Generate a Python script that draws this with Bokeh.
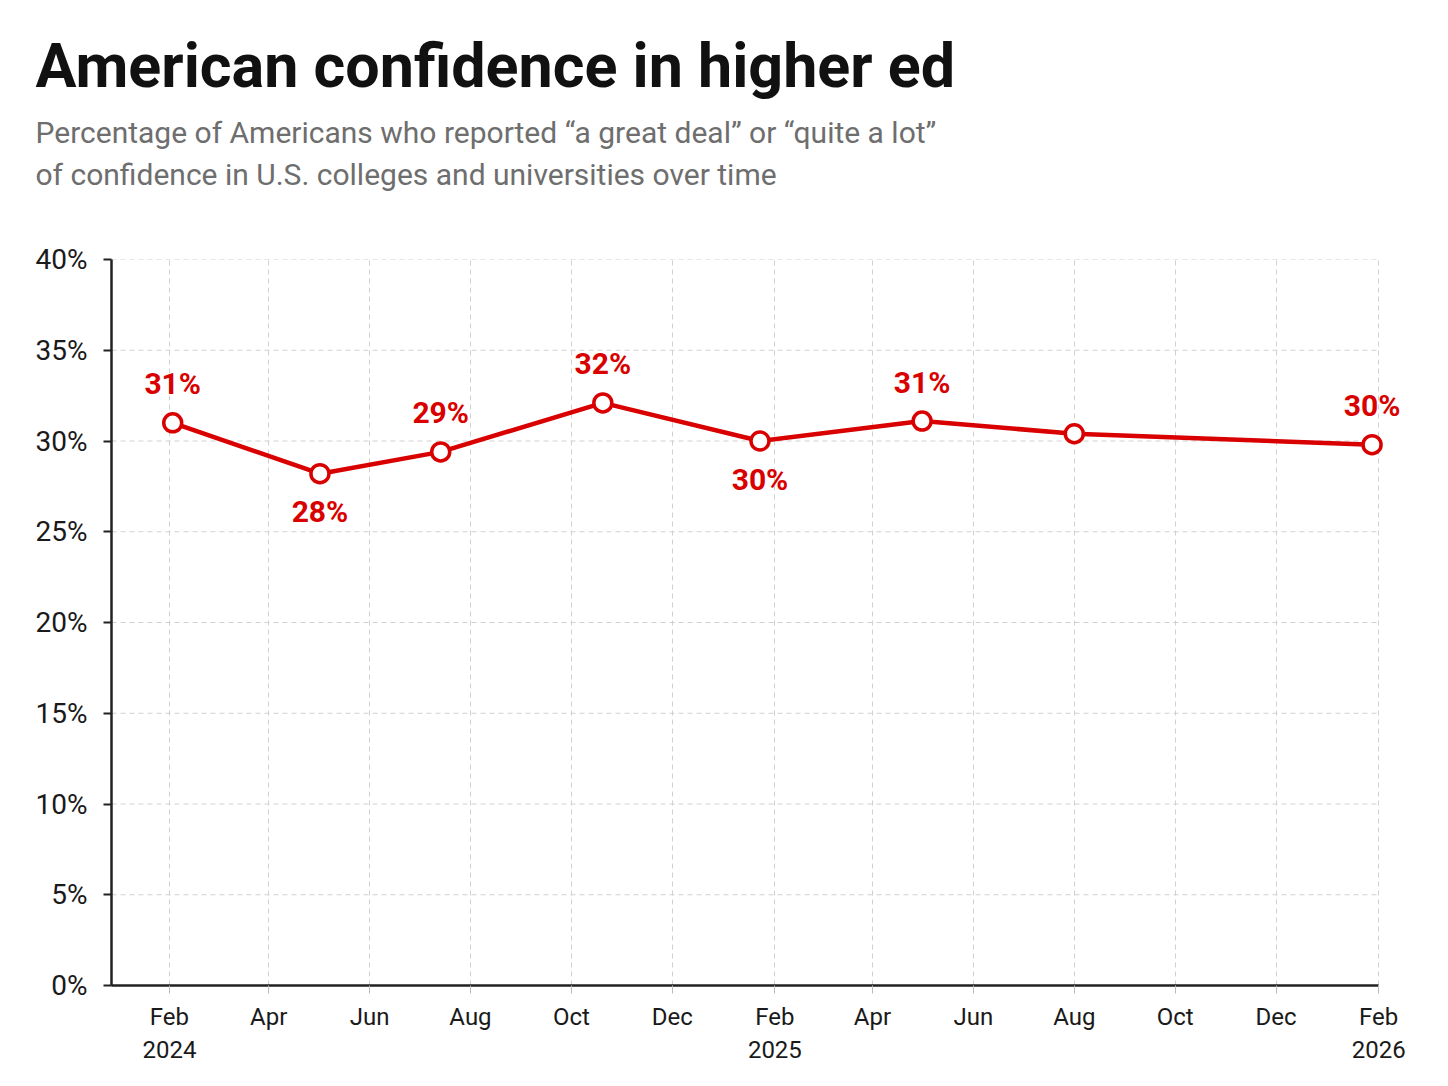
from datetime import datetime
from bokeh.plotting import figure
from bokeh.models import (ColumnDataSource, Range1d, FixedTicker, Title,
                          PrintfTickFormatter)
from bokeh.core.properties import value
from bokeh.embed import file_html
from bokeh.resources import INLINE

# ---- data ----
survey_dates = ["2024-02-03", "2024-05-02", "2024-07-14", "2024-10-20",
                "2025-01-23", "2025-05-01", "2025-08-01", "2026-01-28"]
confidence = [31.0, 28.2, 29.4, 32.1, 30.0, 31.1, 30.4, 29.8]
point_labels = ["31%", "28%", "29%", "32%", "30%", "31%", "", "30%"]
label_side = ["above", "below", "above", "above", "below", "above", "above", "above"]

tick_dates = ["2024-02-01", "2024-04-01", "2024-06-01", "2024-08-01", "2024-10-01",
              "2024-12-01", "2025-02-01", "2025-04-01", "2025-06-01", "2025-08-01",
              "2025-10-01", "2025-12-01", "2026-02-01"]
tick_labels = ["Feb\n2024", "Apr", "Jun", "Aug", "Oct", "Dec", "Feb\n2025",
               "Apr", "Jun", "Aug", "Oct", "Dec", "Feb\n2026"]
y_ticks = [0, 5, 10, 15, 20, 25, 30, 35, 40]

title_text = "American confidence in higher ed"
subtitle_lines = ["Percentage of Americans who reported \u201ca great deal\u201d or \u201cquite a lot\u201d",
                  "of confidence in U.S. colleges and universities over time"]

RED = "#d90000"
FONT = "Roboto"


def ms(s):
    d = datetime.strptime(s, "%Y-%m-%d")
    return int((d - datetime(1970, 1, 1)).total_seconds() * 1000)


def dt(s):
    return datetime.strptime(s, "%Y-%m-%d")


xs = [dt(s) for s in survey_dates]
dy = [-39 if side == "above" else 38 for side in label_side]
src = ColumnDataSource(dict(x=xs, y=confidence, label=point_labels, dy=dy))

x_start = datetime(2023, 12, 28)
x_axis_end = dt(tick_dates[-1])

p = figure(width=1440, height=1078, x_axis_type="datetime",
           output_backend="svg", toolbar_location=None,
           min_border_left=111, min_border_right=37,
           min_border_top=259, min_border_bottom=93)
p.title.text = ""
p.x_range = Range1d(x_start, datetime(2026, 2, 16))
p.y_range = Range1d(0, 40)
p.background_fill_color = "white"
p.border_fill_color = "white"
p.outline_line_color = None

tick_ms = [ms(s) for s in tick_dates]
p.xaxis.ticker = FixedTicker(ticks=tick_ms)
p.xaxis.major_label_overrides = {t: l for t, l in zip(tick_ms, tick_labels)}
p.xaxis.bounds = (x_start, x_axis_end)
p.xaxis.minor_tick_line_color = None
p.yaxis.ticker = FixedTicker(ticks=y_ticks)
p.yaxis.formatter = PrintfTickFormatter(format="%d%%")
p.yaxis.minor_tick_line_color = None

for ax in (p.xaxis, p.yaxis):
    ax.axis_line_color = "#222222"
    ax.axis_line_width = 2.5
    ax.major_label_text_font = FONT
    ax.major_label_text_color = "#1a1a1a"
    ax.major_tick_in = 0
    ax.major_tick_out = 8

p.yaxis.major_label_text_font_size = "28px"
p.xaxis.major_label_text_font_size = "24px"
p.yaxis.major_tick_line_color = "#222222"
p.yaxis.major_tick_line_width = 2
p.yaxis.major_label_standoff = 16
p.xaxis.major_tick_line_color = "#bbbbbb"
p.xaxis.major_tick_line_width = 1
p.xaxis.major_label_standoff = 9

p.xgrid.grid_line_color = "#d0d0d0"
p.xgrid.grid_line_dash = "5 4"
p.xgrid.grid_line_width = 1
p.ygrid.visible = False
# horizontal dashed grid lines ending at the last axis tick
p.segment(x0=[x_start] * len(y_ticks), x1=[x_axis_end] * len(y_ticks),
          y0=y_ticks, y1=y_ticks, line_color="#d0d0d0", line_dash="5 4",
          line_width=1)

p.line("x", "y", source=src, line_color=RED, line_width=4.5)
p.scatter("x", "y", source=src, size=18, fill_color="white",
          line_color=RED, line_width=3.5)
p.text("x", "y", text="label", source=src, y_offset="dy",
       text_align="center", text_baseline="alphabetic",
       text_color=RED, text_font=value(FONT), text_font_style="bold",
       text_font_size="30px")

# titles: first added sits closest to the plot frame
p.add_layout(Title(text=" ", text_font_size="1px", standoff=65), "above")  # spacer
p.add_layout(Title(text=subtitle_lines[1], text_font=FONT, text_font_size="30px",
                   text_font_style="normal", text_color="#6e6e6e",
                   align="left", offset=-76, standoff=0), "above")
p.add_layout(Title(text=subtitle_lines[0], text_font=FONT, text_font_size="30px",
                   text_font_style="normal", text_color="#6e6e6e",
                   align="left", offset=-76, standoff=9), "above")
p.add_layout(Title(text=title_text, text_font=FONT, text_font_size="61px",
                   text_font_style="bold", text_color="#111111",
                   align="left", offset=-76, standoff=14), "above")

open("out.html", "w").write(file_html(p, INLINE))
